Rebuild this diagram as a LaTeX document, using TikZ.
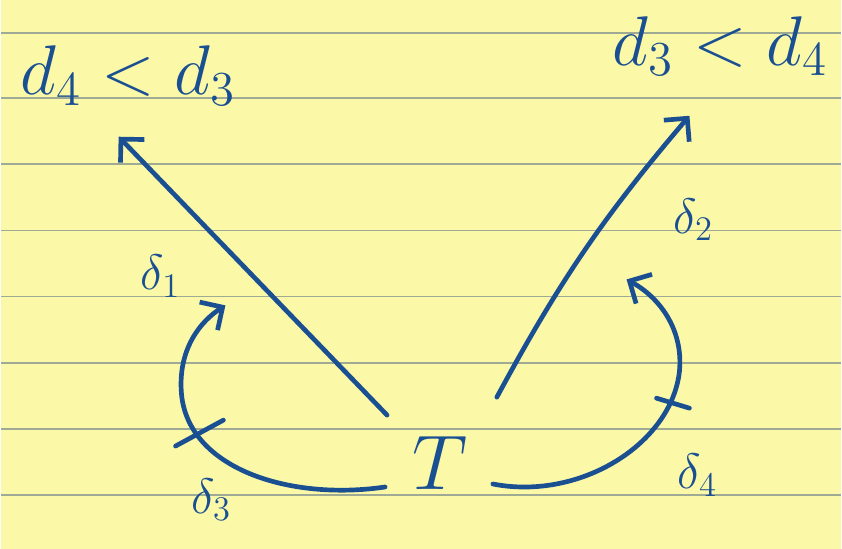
\documentclass[tikz,border=0pt]{standalone}
\usepackage{tikz}
\usetikzlibrary{arrows.meta, positioning}
\definecolor{penblue}{RGB}{26,80,146}
\definecolor{padyellow}{RGB}{251,248,168}
\definecolor{ruleline}{RGB}{158,170,148}

\begin{document}
\begin{tikzpicture}[
    x=0.03cm, y=-0.03cm,
    pen/.style={draw=penblue, line width=4pt, line cap=round, line join=round},
    arr/.style={pen, -{Straight Barb[length=5mm, width=10mm]}},
    order/.style={text=penblue, font=\huge, scale=2.9, inner sep=0pt},
    anglab/.style={text=penblue, font=\huge, scale=2.05, inner sep=0pt},
  ]

  % paper
  \fill[padyellow] (0,0) rectangle (842,550);
  \foreach \y in {33,98,164,231,297,364,430,496}
    \draw[ruleline, line width=1.5pt] (0,\y) -- (842,\y);
  \useasboundingbox (0,0) rectangle (842,550);

  \node[text=penblue, font=\huge, scale=3.2, inner sep=0pt] (T) at (440,464) {$T$};
  \node[order] (lorder) at (128,76) {$d_4 < d_3$};
  \node[order] (rorder) at (721,46) {$d_3 < d_4$};

  \node[anglab] (d1) at (160,277) {$\delta_1$};
  \node[anglab] (d2) at (694,220) {$\delta_2$};
  \node[anglab] (d3) at (211,501) {$\delta_3$};
  \node[anglab] (d4) at (698,476) {$\delta_4$};

  \coordinate (ltip) at (118,137);
  \coordinate (rtip) at (690,116);
  \coordinate (larc) at (225,306);
  \coordinate (rarc) at (627,280);

  \draw[arr] ([shift={(-53,-48)}]T.center) -- (ltip);
  \draw[arr] ([shift={(57,-66)}]T.center) to[bend left=6] (rtip);

  \draw[arr] ([shift={(-55,24)}]T.center)
    .. controls (290,502) and (188,470) .. (181,395)
    .. controls (177,350) and (200,322) .. (larc);
  \draw[arr] ([shift={(53,21)}]T.center)
    .. controls (580,502) and (672,445) .. (680,372)
    .. controls (684,330) and (660,298) .. (rarc);

  % ticks
  \draw[pen] (175,447) -- (223,421);
  \draw[pen] (657,399) -- (690,409);
\end{tikzpicture}
\end{document}
